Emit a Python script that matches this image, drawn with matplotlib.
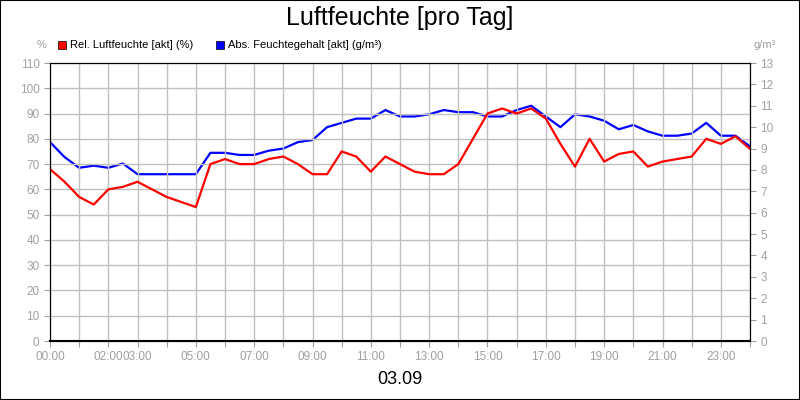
import numpy as np
import matplotlib.pyplot as plt

plt.rcParams['font.family'] = ['Liberation Sans', 'DejaVu Sans']

hours = np.arange(0, 24.01, 0.5)
rel_hum = [68, 63, 57, 54, 60, 61, 63, 60, 57, 55, 53, 70, 72, 70, 70, 72, 73, 70, 66, 66,
           75, 73, 67, 73, 70, 67, 66, 66, 70, 80, 90, 92, 90, 92, 88, 78, 69, 80, 71, 74,
           75, 69, 71, 72, 73, 80, 78, 81, 76]
abs_hum = [9.3, 8.6, 8.1, 8.2, 8.1, 8.3, 7.8, 7.8, 7.8, 7.8, 7.8, 8.8, 8.8, 8.7, 8.7, 8.9,
           9.0, 9.3, 9.4, 10.0, 10.2, 10.4, 10.4, 10.8, 10.5, 10.5, 10.6, 10.8, 10.7, 10.7,
           10.5, 10.5, 10.8, 11.0, 10.5, 10.0, 10.6, 10.5, 10.3, 9.9, 10.1, 9.8, 9.6, 9.6,
           9.7, 10.2, 9.6, 9.6, 9.1]
tick_hours = [0, 2, 3, 5, 7, 9, 11, 13, 15, 17, 19, 21, 23]

fig = plt.figure(figsize=(8, 4), dpi=100)
fig.patches.append(plt.Rectangle((0, 0), 1, 1, transform=fig.transFigure,
                                 fill=False, edgecolor='black', lw=1.5))
ax = fig.add_axes([50/800, 1-341/400, 700/800, 278/400])
ax2 = ax.twinx()

ax.plot(hours, rel_hum, color='#ff0000', lw=1.6)
ax2.plot(hours, abs_hum, color='#0000ff', lw=1.6)
ax.set_zorder(2); ax.patch.set_visible(False)

ax.set_xlim(0, 24)
ax.set_ylim(0, 110)
ax2.set_ylim(0, 13)
ax.set_yticks(range(0, 111, 10))
ax2.set_yticks(range(0, 14))
ax.set_xticks(range(0, 25))
ax.set_xticklabels(['%02d:00' % h if h in tick_hours else '' for h in range(25)])
ax.grid(True, color='#c0c0c0', lw=1)
ax.set_axisbelow(True)
for a in (ax, ax2):
    a.tick_params(colors='#a0a0a0', labelsize=8.5, length=4)
    for s in a.spines.values():
        s.set_color('black')
ax.spines['bottom'].set_linewidth(1.5)

fig.text(0.5, 0.955, 'Luftfeuchte [pro Tag]', ha='center', va='center', fontsize=18)
fig.text(0.5, 0.05, '03.09', ha='center', va='center', fontsize=13)
fig.text(42/800, 1-48/400, '%', color='#a0a0a0', fontsize=8, ha='center')
fig.text(765/800, 1-48/400, 'g/m³', color='#a0a0a0', fontsize=8, ha='center')
fig.patches.append(plt.Rectangle((58/800, 1-49/400), 8/800, 8/400, transform=fig.transFigure,
                                 facecolor='#ff0000', edgecolor='black', lw=0.5))
fig.text(70/800, 1-45/400, 'Rel. Luftfeuchte [akt] (%)', fontsize=8, va='center')
fig.patches.append(plt.Rectangle((216/800, 1-49/400), 8/800, 8/400, transform=fig.transFigure,
                                 facecolor='#0000ff', edgecolor='black', lw=0.5))
fig.text(228/800, 1-45/400, 'Abs. Feuchtegehalt [akt] (g/m³)', fontsize=8, va='center')

plt.savefig('out.png', dpi=100)
plt.close()
